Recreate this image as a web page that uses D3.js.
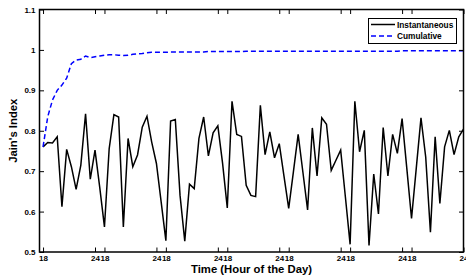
<!DOCTYPE html>
<html>
<head>
<meta charset="utf-8">
<script src="https://cdn.jsdelivr.net/npm/d3@7"></script>
<style>
  body { margin: 0; background: #fff; }
  text { font-family: Arial, "Liberation Sans", Helvetica, sans-serif; font-weight: bold; }
</style>
</head>
<body>
<div class="graph"></div>
<script>
// Data (sample index 0..89)
var instantaneous = [
  0.760, 0.771, 0.770, 0.785, 0.612, 0.754, 0.711, 0.655, 0.715, 0.842,
  0.680, 0.752, 0.660, 0.562, 0.756, 0.840, 0.834, 0.562, 0.781, 0.711,
  0.740, 0.809, 0.836, 0.772, 0.719, 0.624, 0.528, 0.824, 0.828, 0.640,
  0.527, 0.668, 0.657, 0.781, 0.834, 0.738, 0.795, 0.812, 0.720, 0.609,
  0.873, 0.791, 0.786, 0.665, 0.640, 0.637, 0.863, 0.741, 0.797, 0.733,
  0.768, 0.688, 0.608, 0.699, 0.791, 0.698, 0.604, 0.807, 0.688, 0.832,
  0.816, 0.702, 0.727, 0.752, 0.636, 0.519, 0.873, 0.748, 0.801, 0.516,
  0.693, 0.594, 0.808, 0.688, 0.791, 0.744, 0.830, 0.707, 0.583, 0.707,
  0.832, 0.735, 0.549, 0.785, 0.620, 0.760, 0.801, 0.741, 0.785, 0.804
];
var cumulative = [
  0.760, 0.835, 0.876, 0.900, 0.913, 0.930, 0.966, 0.975, 0.977, 0.985,
  0.981, 0.983, 0.985, 0.987, 0.988, 0.988, 0.987, 0.986, 0.987, 0.989,
  0.990, 0.991, 0.993, 0.994, 0.994, 0.994, 0.994, 0.995, 0.995, 0.995,
  0.995, 0.995, 0.995, 0.995, 0.995, 0.996, 0.996, 0.996, 0.996, 0.996,
  0.996, 0.996, 0.996, 0.997, 0.997, 0.997, 0.997, 0.997, 0.997, 0.997,
  0.997, 0.997, 0.997, 0.997, 0.997, 0.997, 0.997, 0.997, 0.997, 0.997,
  0.997, 0.997, 0.997, 0.997, 0.997, 0.997, 0.997, 0.997, 0.997, 0.997,
  0.997, 0.997, 0.997, 0.997, 0.997, 0.997, 0.998, 0.998, 0.998, 0.998,
  0.998, 0.998, 0.998, 0.998, 0.998, 0.998, 0.998, 0.998, 0.998, 0.998
];
// x ticks (sample index) and their hour labels
var xTickValues = [0, 11, 13, 24, 26, 37, 39, 50, 52, 63, 65, 76, 78, 89];
var xTickLabels = ["18", "24", "18", "24", "18", "24", "18", "24", "18", "24", "18", "24", "18", "24"];
var yTickValues = [0.5, 0.6, 0.7, 0.8, 0.9, 1.0, 1.1];

var width = 466,
    height = 278;
var plotLeft = 39.5, plotRight = 463.5, plotTop = 9.5, plotBottom = 252;

var x = d3.scaleLinear().domain([-0.75, 89]).range([plotLeft, plotRight]);
var y = d3.scaleLinear().domain([0.5, 1.1]).range([plotBottom, plotTop]);

var svg = d3.select(".graph").append("svg")
    .attr("width", width)
    .attr("height", height)
    .style("display", "block");

svg.append("defs").append("clipPath").attr("id", "clip")
  .append("rect")
    .attr("x", plotLeft).attr("y", plotTop)
    .attr("width", plotRight - plotLeft).attr("height", plotBottom - plotTop);

var line = d3.line()
    .x(function(d, i) { return x(i); })
    .y(function(d) { return y(d); });

var plot = svg.append("g").attr("clip-path", "url(#clip)");

plot.append("path")
    .datum(instantaneous)
    .attr("d", line)
    .attr("fill", "none")
    .attr("stroke", "#000")
    .attr("stroke-width", 1.5);

plot.append("path")
    .datum(cumulative)
    .attr("d", line)
    .attr("fill", "none")
    .attr("stroke", "#0000ff")
    .attr("stroke-width", 1.5)
    .attr("stroke-dasharray", "5,3");

// axes, ticks inward, box on
var fmtX = function(d, i) { return xTickLabels[i]; };
var fmtY = function(d) { return String(+d.toFixed(1)); };

svg.append("g")
    .attr("transform", "translate(0," + plotBottom + ")")
    .call(d3.axisBottom(x).tickValues(xTickValues).tickFormat(fmtX).tickSizeInner(-4.5).tickSizeOuter(0).tickPadding(3.5))
    .call(function(g) { g.select(".domain").remove(); });

svg.append("g")
    .attr("transform", "translate(0," + plotTop + ")")
    .call(d3.axisTop(x).tickValues(xTickValues).tickFormat("").tickSizeInner(-4.5).tickSizeOuter(0))
    .call(function(g) { g.select(".domain").remove(); });

svg.append("g")
    .attr("transform", "translate(" + plotLeft + ",0)")
    .call(d3.axisLeft(y).tickValues(yTickValues).tickFormat(fmtY).tickSizeInner(-4.5).tickSizeOuter(0).tickPadding(4))
    .call(function(g) { g.select(".domain").remove(); });

svg.append("g")
    .attr("transform", "translate(" + plotRight + ",0)")
    .call(d3.axisRight(y).tickValues(yTickValues).tickFormat("").tickSizeInner(-4.5).tickSizeOuter(0))
    .call(function(g) { g.select(".domain").remove(); });

svg.selectAll(".tick line").attr("stroke", "#000").attr("stroke-width", 1);
svg.selectAll(".tick text")
    .attr("fill", "#000")
    .style("font-size", "8px")
    .style("font-family", "Arial, 'Liberation Sans', Helvetica, sans-serif")
    .style("font-weight", "bold");

svg.append("rect")
    .attr("x", plotLeft).attr("y", plotTop)
    .attr("width", plotRight - plotLeft).attr("height", plotBottom - plotTop)
    .attr("fill", "none")
    .attr("stroke", "#000")
    .attr("stroke-width", 1.5);

// axis titles
svg.append("text")
    .attr("x", (plotLeft + plotRight) / 2)
    .attr("y", 273)
    .attr("text-anchor", "middle")
    .style("font-size", "11.3px")
    .text("Time (Hour of the Day)");

svg.append("text")
    .attr("transform", "translate(17," + (plotTop + plotBottom) / 2 + ") rotate(-90)")
    .attr("text-anchor", "middle")
    .style("font-size", "11.3px")
    .text("Jain's Index");

// legend
var legend = svg.append("g");
legend.append("rect")
    .attr("x", 368.5).attr("y", 18.5)
    .attr("width", 88).attr("height", 25)
    .attr("fill", "#fff")
    .attr("stroke", "#000")
    .attr("stroke-width", 1);

var legendItems = [
  {label: "Instantaneous", color: "#000", dash: null, yy: 24.5},
  {label: "Cumulative", color: "#0000ff", dash: "5,3", yy: 36}
];
legendItems.forEach(function(d) {
  legend.append("line")
      .attr("x1", 371).attr("x2", 395)
      .attr("y1", d.yy).attr("y2", d.yy)
      .attr("stroke", d.color)
      .attr("stroke-width", 1.5)
      .attr("stroke-dasharray", d.dash);
  legend.append("text")
      .attr("x", 397)
      .attr("y", d.yy + 3)
      .style("font-size", "8.3px")
      .text(d.label);
});
</script>
</body>
</html>
